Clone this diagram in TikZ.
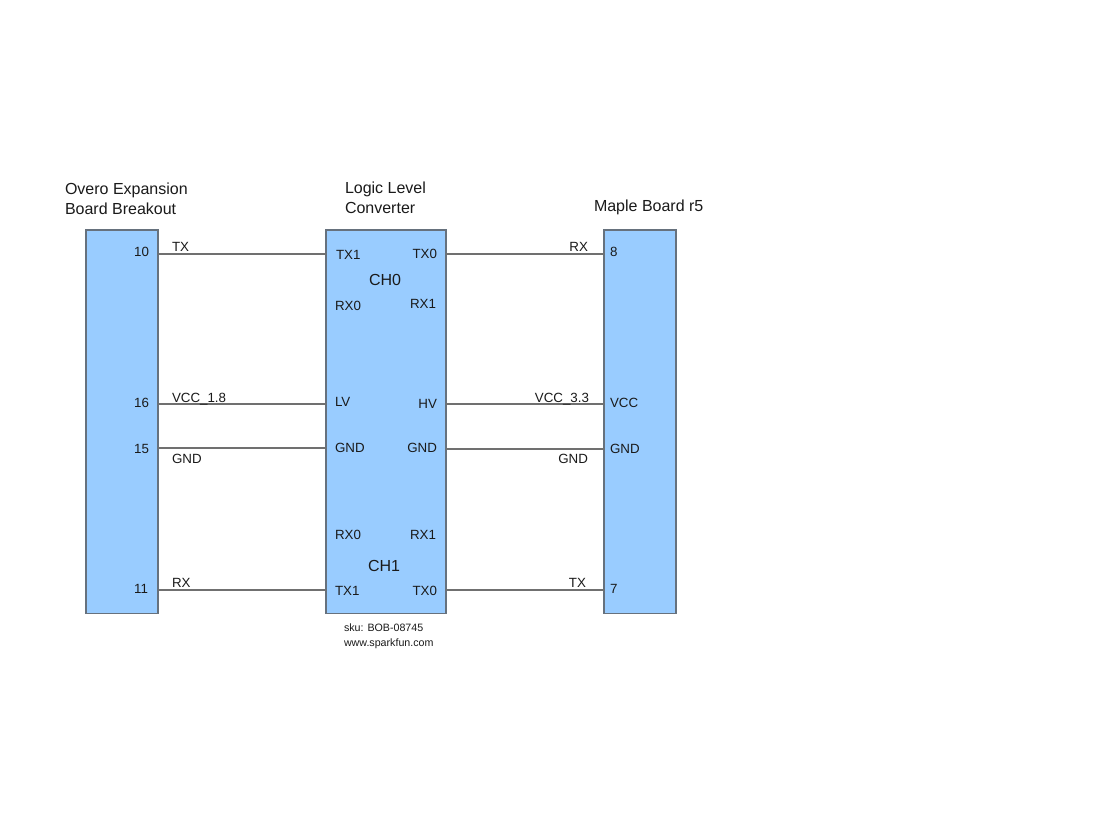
\documentclass[tikz,border=0pt]{standalone}
\usepackage{fontspec}
\setmainfont{Liberation Sans}
\definecolor{boxfill}{HTML}{99CCFF}
\definecolor{boxline}{HTML}{66717D}
\definecolor{wireline}{HTML}{707070}
\definecolor{inkc}{HTML}{1A1A1A}
\tikzset{
  board/.style={draw=boxline,fill=boxfill,line width=0.9pt,anchor=north west,inner sep=0pt,outer sep=0pt},
  wire/.style={draw=wireline,line width=0.95pt},
  lbl/.style={anchor=base west,inner sep=0pt,outer sep=0pt,text=inkc,yshift=-0.75pt,font=\fontsize{10}{12}\selectfont},
  rlbl/.style={lbl,anchor=base east},
  title/.style={lbl,font=\fontsize{12}{14}\selectfont},
  small/.style={lbl,font=\fontsize{8}{10}\selectfont}
}
\begin{document}
\begin{tikzpicture}[x=0.75pt,y=-0.75pt]
\useasboundingbox (0,0) rectangle (1104,816);
\fill[white] (0,0) rectangle (1104,816);
% boards
\node[board,minimum width=54pt,minimum height=287.6pt] (left) at (86,230) {};
\node[board,minimum width=90pt,minimum height=287.6pt] (mid) at (326,230) {};
\node[board,minimum width=54pt,minimum height=287.6pt] (right) at (604,230) {};
% wire ends
\foreach \n/\y in {a/254,b/404,c/448,d/590}{
  \coordinate (l\n) at (left.east |- 0,\y);
  \coordinate (ml\n) at (mid.west |- 0,\y);
}
\foreach \n/\y in {a/254,b/404,c/449,d/590}{
  \coordinate (mr\n) at (mid.east |- 0,\y);
  \coordinate (r\n) at (right.west |- 0,\y);
}
\foreach \n in {a,b,c,d}{
  \draw[wire] (l\n) -- (ml\n);
  \draw[wire] (mr\n) -- (r\n);
}
% titles
\node[title] (t1) at (65,194) {Overo Expansion};
\node[title] (t2) at (65,214) {Board Breakout};
\node[title] (t3) at (345,193) {Logic Level};
\node[title] (t4) at (345,213) {Converter};
\node[title] (t5) at (594,211) {Maple Board r5};
% left pins
\node[rlbl] (p10) at (149,256) {10};
\node[rlbl] (p16) at (149,407) {16};
\node[rlbl] (p15) at (149,453) {15};
\node[rlbl] (p11) at (148,593) {11};
\node[lbl] (n1) at (172,251) {TX};
\node[lbl] (n2) at (172,402) {VCC\_1.8};
\node[lbl] (n3) at (172,463) {GND};
\node[lbl] (n4) at (172,587) {RX};
% middle
\node[lbl] (m1) at (336,259) {TX1};
\node[rlbl] (m2) at (437,258) {TX0};
\node[title] (ch0) at (369,285) {CH0};
\node[lbl] (m3) at (335,310) {RX0};
\node[rlbl] (m4) at (436,308) {RX1};
\node[lbl] (m5) at (335,406) {LV};
\node[rlbl] (m6) at (437,408) {HV};
\node[lbl] (m7) at (335,452) {GND};
\node[rlbl] (m8) at (437,452) {GND};
\node[lbl] (m9) at (335,539) {RX0};
\node[rlbl] (m10) at (436,539) {RX1};
\node[title] (ch1) at (368,570) {CH1};
\node[lbl] (m11) at (335,594) {TX1};
\node[rlbl] (m12) at (437,594) {TX0};
\node[small] (s1) at (344,631) {sku: BOB-08745};
\node[small] (s2) at (344,646) {www.sparkfun.com};
% right
\node[rlbl] (q1) at (588,251) {RX};
\node[rlbl] (q2) at (589,402) {VCC\_3.3};
\node[rlbl] (q3) at (588,463) {GND};
\node[rlbl] (q4) at (586,587) {TX};
\node[lbl] (q5) at (610,256) {8};
\node[lbl] (q6) at (610,407) {VCC};
\node[lbl] (q7) at (610,453) {GND};
\node[lbl] (q8) at (610,593) {7};
\end{tikzpicture}
\end{document}
